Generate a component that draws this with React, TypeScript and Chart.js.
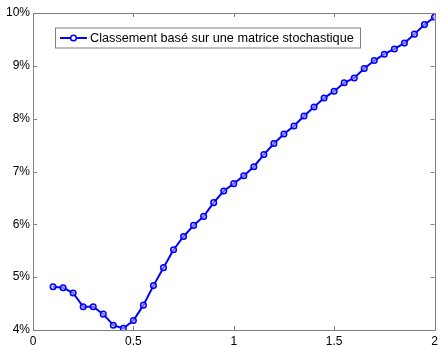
import React, { useEffect, useRef } from "react";
import { Chart, registerables } from "chart.js";

Chart.register(...registerables);

const xValues = [0.1, 0.15, 0.2, 0.25, 0.3, 0.35, 0.4, 0.45, 0.5, 0.55, 0.6, 0.65, 0.7, 0.75, 0.8, 0.85, 0.9, 0.95, 1.0, 1.05, 1.1, 1.15, 1.2, 1.25, 1.3, 1.35, 1.4, 1.45, 1.5, 1.55, 1.6, 1.65, 1.7, 1.75, 1.8, 1.85, 1.9, 1.95, 2.0];
const yValues = [4.82, 4.8, 4.7, 4.44, 4.44, 4.3, 4.09, 4.03, 4.18, 4.47, 4.84, 5.18, 5.52, 5.77, 5.98, 6.15, 6.41, 6.63, 6.77, 6.92, 7.09, 7.32, 7.53, 7.71, 7.86, 8.05, 8.22, 8.39, 8.52, 8.68, 8.77, 8.95, 9.1, 9.22, 9.32, 9.43, 9.6, 9.78, 9.92];
const seriesLabel = "Classement basé sur une matrice stochastique";
const xTicks = [0, 0.5, 1, 1.5, 2];
const yTicks = [4, 5, 6, 7, 8, 9, 10];

const FONT = "'Liberation Sans', Arial, sans-serif";
const BLUE = "#0000ff";

const boxPlugin = {
  id: "matlabBox",
  afterDraw(chart: any) {
    const { ctx, chartArea: a, scales } = chart;
    ctx.save();
    ctx.strokeStyle = "#7f7f7f";
    ctx.lineWidth = 1;
    ctx.strokeRect(Math.round(a.left) + 0.5, Math.round(a.top) + 0.5, Math.round(a.right - a.left), Math.round(a.bottom - a.top));
    const tl = 4;
    ctx.beginPath();
    xTicks.forEach((t) => {
      const x = Math.round(scales.x.getPixelForValue(t)) + 0.5;
      ctx.moveTo(x, a.bottom);
      ctx.lineTo(x, a.bottom - tl);
      ctx.moveTo(x, a.top);
      ctx.lineTo(x, a.top + tl);
    });
    yTicks.forEach((t) => {
      const y = Math.round(scales.y.getPixelForValue(t)) + 0.5;
      ctx.moveTo(a.left, y);
      ctx.lineTo(a.left + tl, y);
      ctx.moveTo(a.right, y);
      ctx.lineTo(a.right - tl, y);
    });
    ctx.stroke();

    // legend
    const lx = 55, ly = 27.5, lw = 305, lh = 20;
    ctx.fillStyle = "#ffffff";
    ctx.fillRect(lx, ly, lw, lh);
    ctx.strokeStyle = "#7f7f7f";
    ctx.strokeRect(lx + 0.5, ly + 0.5, lw, lh);
    const cy = ly + lh / 2 + 0.5;
    ctx.strokeStyle = BLUE;
    ctx.lineWidth = 2;
    ctx.beginPath();
    ctx.moveTo(60, cy);
    ctx.lineTo(87, cy);
    ctx.stroke();
    ctx.lineWidth = 1.5;
    ctx.beginPath();
    ctx.arc(73.5, cy, 2.8, 0, Math.PI * 2);
    ctx.fillStyle = "#ffffff";
    ctx.fill();
    ctx.stroke();
    ctx.fillStyle = "#000000";
    ctx.font = `12.7px ${FONT}`;
    ctx.textBaseline = "middle";
    ctx.textAlign = "left";
    ctx.fillText(seriesLabel, 90, cy);
    ctx.restore();
  },
};

export default function App() {
  const ref = useRef<HTMLCanvasElement>(null);
  useEffect(() => {
    document.body.style.margin = "0";
    const data = xValues.map((x, i) => ({ x, y: yValues[i] }));
    const chart = new Chart(ref.current!, {
      type: "line",
      data: {
        datasets: [
          {
            label: seriesLabel,
            data,
            borderColor: BLUE,
            borderWidth: 2,
            pointRadius: 2.8,
            pointBorderWidth: 1.5,
            pointBorderColor: BLUE,
            pointBackgroundColor: "rgba(180,180,255,0.6)",
            tension: 0,
            fill: false,
          },
        ],
      },
      options: {
        animation: false,
        responsive: false,
        events: [],
        layout: { padding: { top: 13, right: 3, left: 0, bottom: 0 } },
        plugins: { legend: { display: false }, tooltip: { enabled: false } },
        scales: {
          x: {
            type: "linear",
            min: 0,
            max: 2,
            grid: { display: false, drawTicks: false },
            border: { display: false },
            afterBuildTicks: (s: any) => {
              s.ticks = xTicks.map((v) => ({ value: v }));
            },
            afterFit: (s: any) => {
              s.height = 15;
              s.paddingLeft = 0;
              s.paddingRight = 0;
            },
            ticks: {
              color: "#000",
              font: { family: FONT, size: 12 },
              padding: 4,
              maxRotation: 0,
              autoSkip: false,
              callback: (v: any) => String(v),
            },
          },
          y: {
            type: "linear",
            min: 4,
            max: 10,
            grid: { display: false, drawTicks: false },
            border: { display: false },
            afterBuildTicks: (s: any) => {
              s.ticks = yTicks.map((v) => ({ value: v }));
            },
            afterFit: (s: any) => {
              s.width = 33;
              s.paddingTop = 0;
              s.paddingBottom = 0;
            },
            ticks: {
              color: "#000",
              font: { family: FONT, size: 12 },
              padding: 3,
              autoSkip: false,
              callback: (v: any) => `${v}%`,
            },
          },
        },
      },
      plugins: [boxPlugin],
    });
    return () => chart.destroy();
  }, []);
  return <canvas ref={ref} width={440} height={345} style={{ display: "block" }} />;
}
